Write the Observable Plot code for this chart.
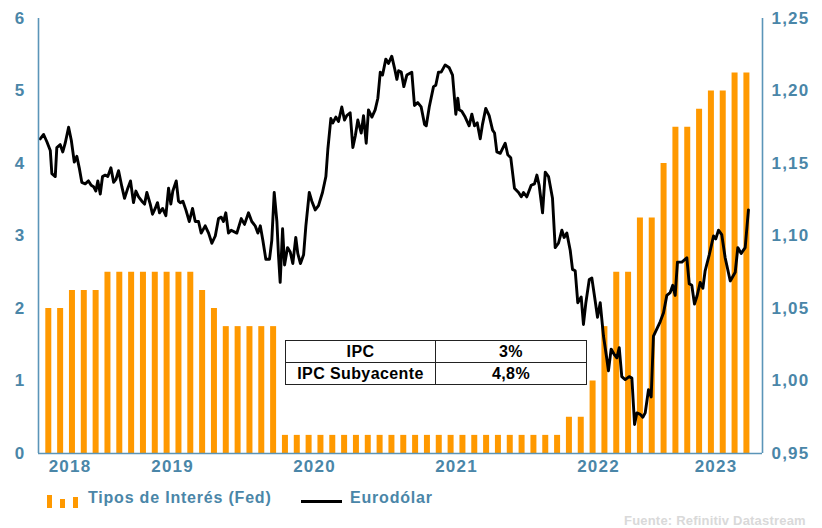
<!DOCTYPE html>
<html><head><meta charset="utf-8">
<script src="https://cdn.jsdelivr.net/npm/d3@7"></script>
<script src="https://cdn.jsdelivr.net/npm/@observablehq/plot@0.6"></script>
<style>
body{margin:0;background:#fff;}
#wrap{position:relative;width:822px;height:528px;font-family:"Liberation Sans",Arial,sans-serif;font-weight:bold;}
#wrap svg.chart{position:absolute;left:0;top:0;}
.tbl{position:absolute;left:285px;top:340px;border-collapse:collapse;background:#fff;font-size:16px;letter-spacing:0.4px;color:#000;}
.tbl td{border:1px solid #222;text-align:center;height:21px;padding:0;line-height:20px;}
.leg{position:absolute;font-size:16px;letter-spacing:0.8px;color:#4a86a8;line-height:16px;white-space:nowrap;}
.src{position:absolute;font-size:13px;letter-spacing:0.2px;color:#d9d9d9;line-height:13px;white-space:nowrap;}
</style></head><body><div id="wrap"></div>
<script>
// Fed funds rate (upper bound), monthly bars
const barMonths = ["2018-08","2018-09","2018-10","2018-11","2018-12",
 "2019-01","2019-02","2019-03","2019-04","2019-05","2019-06","2019-07","2019-08","2019-09","2019-10","2019-11","2019-12",
 "2020-01","2020-02","2020-03","2020-04","2020-05","2020-06","2020-07","2020-08","2020-09","2020-10","2020-11","2020-12",
 "2021-01","2021-02","2021-03","2021-04","2021-05","2021-06","2021-07","2021-08","2021-09","2021-10","2021-11","2021-12",
 "2022-01","2022-02","2022-03","2022-04","2022-05","2022-06","2022-07","2022-08","2022-09","2022-10","2022-11","2022-12",
 "2023-01","2023-02","2023-03","2023-04","2023-05","2023-06","2023-07"];
const fedRate = [2.0,2.0,2.25,2.25,2.25,
 2.5,2.5,2.5,2.5,2.5,2.5,2.5,2.5,2.25,2.0,1.75,1.75,
 1.75,1.75,1.75,0.25,0.25,0.25,0.25,0.25,0.25,0.25,0.25,0.25,
 0.25,0.25,0.25,0.25,0.25,0.25,0.25,0.25,0.25,0.25,0.25,0.25,
 0.25,0.25,0.25,0.5,0.5,1.0,1.75,2.5,2.5,3.25,3.25,4.0,
 4.5,4.5,4.75,5.0,5.0,5.25,5.25];

// EUR/USD (decimal year, value)
const eurT = [2018.568,2018.592,2018.615,2018.639,2018.650,2018.674,2018.685,2018.709,2018.727,2018.744,
2018.768,2018.787,2018.808,2018.826,2018.843,2018.861,2018.885,2018.908,2018.927,2018.944,
2018.960,2018.974,2018.991,2019.007,2019.026,2019.044,2019.066,2019.085,2019.101,2019.120,
2019.143,2019.162,2019.185,2019.204,2019.225,2019.242,2019.261,2019.284,2019.303,2019.319,
2019.343,2019.359,2019.378,2019.394,2019.408,2019.430,2019.453,2019.472,2019.488,2019.502,
2019.526,2019.542,2019.554,2019.573,2019.594,2019.618,2019.641,2019.660,2019.683,2019.702,
2019.730,2019.754,2019.777,2019.801,2019.824,2019.843,2019.859,2019.875,2019.894,2019.913,
2019.953,2019.984,2020.007,2020.035,2020.058,2020.082,2020.101,2020.118,2020.136,2020.157,
2020.183,2020.199,2020.216,2020.235,2020.246,2020.258,2020.275,2020.289,2020.310,2020.329,
2020.347,2020.368,2020.382,2020.401,2020.423,2020.439,2020.463,2020.481,2020.505,2020.528,
2020.556,2020.580,2020.594,2020.615,2020.629,2020.650,2020.669,2020.692,2020.711,2020.727,
2020.751,2020.770,2020.787,2020.805,2020.829,2020.845,2020.864,2020.880,2020.904,2020.927,
2020.946,2020.963,2020.979,2021.002,2021.021,2021.044,2021.063,2021.080,2021.092,2021.111,
2021.129,2021.150,2021.185,2021.204,2021.227,2021.251,2021.275,2021.287,2021.308,2021.338,
2021.354,2021.373,2021.392,2021.420,2021.449,2021.472,2021.495,2021.509,2021.519,2021.537,
2021.561,2021.589,2021.608,2021.627,2021.646,2021.667,2021.683,2021.706,2021.730,2021.754,
2021.768,2021.784,2021.808,2021.843,2021.861,2021.882,2021.908,2021.937,2021.956,2021.972,
2021.995,2022.026,2022.049,2022.066,2022.082,2022.106,2022.125,2022.148,2022.176,2022.195,
2022.218,2022.242,2022.258,2022.277,2022.301,2022.317,2022.336,2022.354,2022.378,2022.394,
2022.411,2022.435,2022.453,2022.477,2022.493,2022.512,2022.535,2022.559,2022.570,2022.589,
2022.613,2022.629,2022.646,2022.664,2022.688,2022.716,2022.735,2022.754,2022.770,2022.794,
2022.812,2022.829,2022.852,2022.871,2022.887,2022.911,2022.935,2022.958,2022.981,2023.005,
2023.023,2023.040,2023.056,2023.087,2023.122,2023.139,2023.157,2023.176,2023.195,2023.216,
2023.235,2023.251,2023.280,2023.310,2023.326,2023.345,2023.368,2023.392,2023.428,2023.463,
2023.481,2023.505,2023.533,2023.556];
const eurV = [1.167,1.170,1.165,1.159,1.143,1.141,1.161,1.163,1.158,1.164,
1.175,1.166,1.151,1.155,1.147,1.137,1.136,1.138,1.135,1.134,
1.131,1.138,1.129,1.141,1.142,1.141,1.147,1.137,1.139,1.145,
1.134,1.126,1.133,1.138,1.123,1.131,1.127,1.124,1.122,1.130,
1.122,1.115,1.119,1.123,1.116,1.119,1.114,1.133,1.122,1.131,
1.138,1.124,1.123,1.124,1.118,1.110,1.119,1.110,1.110,1.102,
1.107,1.102,1.095,1.100,1.112,1.113,1.110,1.116,1.102,1.104,
1.102,1.112,1.108,1.116,1.110,1.107,1.102,1.107,1.097,1.084,
1.084,1.097,1.130,1.110,1.087,1.068,1.105,1.080,1.092,1.089,
1.081,1.099,1.088,1.081,1.087,1.107,1.130,1.124,1.118,1.121,
1.130,1.141,1.160,1.181,1.178,1.182,1.179,1.189,1.180,1.183,
1.185,1.161,1.169,1.180,1.171,1.183,1.164,1.187,1.182,1.187,
1.195,1.213,1.211,1.222,1.219,1.224,1.216,1.208,1.214,1.213,
1.203,1.211,1.213,1.190,1.192,1.189,1.177,1.176,1.189,1.203,
1.204,1.213,1.213,1.218,1.216,1.211,1.184,1.195,1.187,1.186,
1.182,1.176,1.184,1.176,1.178,1.167,1.177,1.188,1.183,1.173,
1.171,1.158,1.157,1.164,1.156,1.154,1.133,1.130,1.127,1.130,
1.127,1.135,1.136,1.142,1.135,1.116,1.144,1.141,1.126,1.092,
1.095,1.104,1.099,1.102,1.090,1.077,1.076,1.054,1.058,1.039,
1.054,1.070,1.071,1.055,1.044,1.054,1.031,1.015,1.007,1.022,
1.018,1.016,1.023,1.003,1.001,1.003,1.002,0.970,0.978,0.977,
0.975,0.978,0.994,0.989,1.031,1.036,1.041,1.047,1.059,1.061,
1.066,1.059,1.082,1.082,1.085,1.067,1.066,1.053,1.059,1.068,
1.064,1.076,1.087,1.100,1.098,1.104,1.101,1.085,1.069,1.075,
1.092,1.088,1.092,1.118];

const years = [2018, 2019, 2020, 2021, 2022, 2023];
const leftTicks = [0, 1, 2, 3, 4, 5, 6];
const rightTicks = [0.95, 1.00, 1.05, 1.10, 1.15, 1.20, 1.25];
const tableLabels = ["IPC", "IPC Subyacente"];
const tableValues = ["3%", "4,8%"];
const legendLabels = ["Tipos de Interés (Fed)", "Eurodólar"];
const sourceText = "Fuente: Refinitiv Datastream";

const xDomain = [2018.556, 2023.655];
const leftDomain = [0, 6];
const rightDomain = [0.95, 1.25];
const toLeft = v => (v - rightDomain[0]) / (rightDomain[1] - rightDomain[0]) * (leftDomain[1] - leftDomain[0]);

const bars = barMonths.map((m, i) => {
  const [yy, mm] = m.split("-").map(Number);
  return {t: yy + (mm - 0.5) / 12, rate: fedRate[i]};
});
const eur = eurT.map((t, i) => ({t, y: toLeft(eurV[i])}));
const yearCenters = years.map(y => (Math.max(y, xDomain[0]) + Math.min(y + 1, xDomain[1])) / 2);

const orange = "#ff9900";
const labelColor = "#4a86a8";
const axisLine = "#5b95b8";

const chart = Plot.plot({
  width: 822, height: 480,
  marginTop: 18, marginBottom: 27, marginLeft: 38, marginRight: 60,
  x: {type: "linear", domain: xDomain},
  y: {domain: leftDomain},
  style: {fontFamily: "'Liberation Sans', Arial, sans-serif", fontWeight: "bold", fontSize: "17px", letterSpacing: "1.2px", background: "white", color: labelColor, overflow: "visible"},
  marks: [
    Plot.ruleX(bars, {x: "t", y1: 0, y2: "rate", stroke: orange, strokeWidth: 6}),
    Plot.line(eur, {x: "t", y: "y", stroke: "#000", strokeWidth: 2.9, strokeLinejoin: "round"}),
    Plot.ruleY([leftDomain[0]], {stroke: axisLine, strokeWidth: 1.6}),
    Plot.ruleX([xDomain[0]], {stroke: axisLine, strokeWidth: 1.6}),
    Plot.ruleX([xDomain[1]], {stroke: axisLine, strokeWidth: 1.6}),
    Plot.axisY({ticks: leftTicks, tickSize: 0, tickPadding: 13, label: null, tickFormat: d => String(d), fill: labelColor}),
    Plot.axisY({anchor: "right", ticks: rightTicks.map(toLeft), tickSize: 0, tickPadding: 9, label: null,
      tickFormat: d => (rightDomain[0] + d / 20).toFixed(2).replace(".", ","), fill: labelColor}),
    Plot.axisX({ticks: yearCenters, tickSize: 0, tickPadding: 6, label: null, tickFormat: d => String(Math.floor(d)), fill: labelColor})
  ]
});
chart.classList.add("chart");
const wrap = document.getElementById("wrap");
wrap.appendChild(chart);

// CPI table annotation
const tbl = document.createElement("table");
tbl.className = "tbl";
tableLabels.forEach((lab, i) => {
  const tr = document.createElement("tr");
  const a = document.createElement("td"); a.textContent = lab; a.style.width = "149px";
  const b = document.createElement("td"); b.textContent = tableValues[i]; b.style.width = "150px";
  tr.appendChild(a); tr.appendChild(b); tbl.appendChild(tr);
});
wrap.appendChild(tbl);

// Legend
const sw = document.createElementNS("http://www.w3.org/2000/svg", "svg");
sw.setAttribute("width", 32); sw.setAttribute("height", 14);
sw.style.position = "absolute"; sw.style.left = "47px"; sw.style.top = "495px";
[[0, 0, 13], [13, 4, 9], [26, 2, 11]].forEach(([x, y, h]) => {
  const r = document.createElementNS("http://www.w3.org/2000/svg", "rect");
  r.setAttribute("x", x); r.setAttribute("y", y); r.setAttribute("width", 5); r.setAttribute("height", h);
  r.setAttribute("fill", orange); sw.appendChild(r);
});
wrap.appendChild(sw);
const l1 = document.createElement("div"); l1.className = "leg"; l1.style.left = "88px"; l1.style.top = "490px"; l1.textContent = legendLabels[0];
wrap.appendChild(l1);
const ln = document.createElement("div"); ln.style.cssText = "position:absolute;left:301px;top:500px;width:41px;height:3px;background:#000;";
wrap.appendChild(ln);
const l2 = document.createElement("div"); l2.className = "leg"; l2.style.left = "350px"; l2.style.top = "490px"; l2.textContent = legendLabels[1];
wrap.appendChild(l2);
const src = document.createElement("div"); src.className = "src"; src.style.left = "624px"; src.style.top = "514px"; src.textContent = sourceText;
wrap.appendChild(src);
</script></body></html>
